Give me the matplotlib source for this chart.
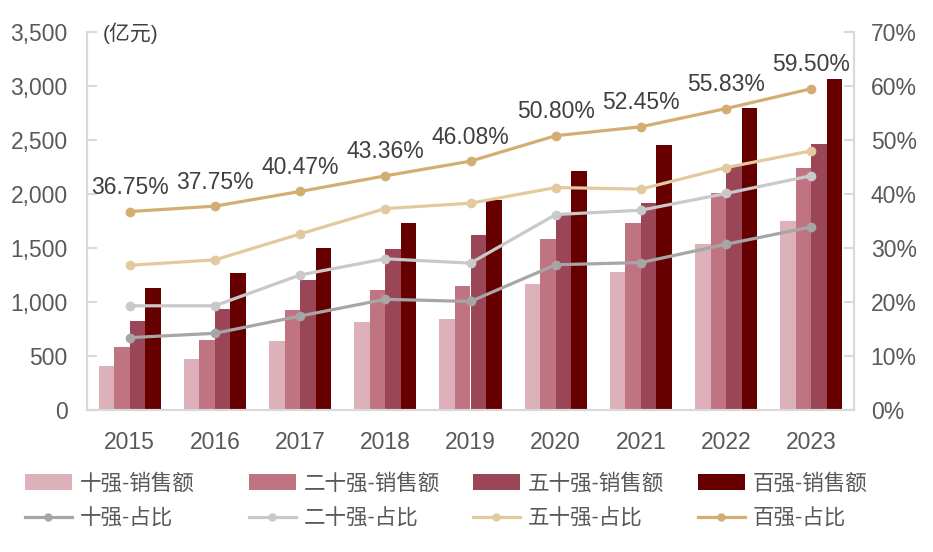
import numpy as np
import matplotlib
matplotlib.use("Agg")
import matplotlib.pyplot as plt
from matplotlib.ticker import FuncFormatter
from matplotlib.patches import Patch
from matplotlib.lines import Line2D

plt.rcParams['font.family'] = ['Liberation Sans', 'Noto Sans CJK SC', 'DejaVu Sans']

# data
years = ['2015', '2016', '2017', '2018', '2019', '2020', '2021', '2022', '2023']
sales_top10 = [410, 475, 640, 815, 846, 1170, 1281, 1540, 1750]
sales_top20 = [586, 651, 923, 1108, 1151, 1586, 1728, 2006, 2238]
sales_top50 = [824, 932, 1204, 1488, 1617, 1810, 1913, 2255, 2466]
sales_top100 = [1130, 1269, 1497, 1728, 1948, 2216, 2454, 2793, 3062]

share_top10 = [13.4, 14.2, 17.4, 20.5, 20.1, 26.9, 27.3, 30.7, 33.9]
share_top20 = [19.3, 19.3, 25.0, 28.0, 27.2, 36.2, 37.0, 40.1, 43.4]
share_top50 = [26.8, 27.8, 32.6, 37.3, 38.3, 41.2, 40.9, 44.9, 48.0]
share_top100 = [36.75, 37.75, 40.47, 43.36, 46.08, 50.80, 52.45, 55.83, 59.50]

bar_names = ['十强-销售额', '二十强-销售额', '五十强-销售额', '百强-销售额']
line_names = ['十强-占比', '二十强-占比', '五十强-占比', '百强-占比']
bar_colors = ['#DDB1B9', '#C07482', '#9B4656', '#660000']
line_colors = ['#A6A6A6', '#C9C9C9', '#E3CA9E', '#D2AE73']

text_gray = '#595959'
axis_gray = '#D9D9D9'

fig = plt.figure(figsize=(9.33, 5.52), dpi=100)
ax = fig.add_axes([87 / 933, 1 - 410 / 552, (854 - 87) / 933, (410 - 32) / 552])
ax2 = ax.twinx()

x = np.arange(len(years))
w = 0.182
sales = [sales_top10, sales_top20, sales_top50, sales_top100]
for i, vals in enumerate(sales):
    ax.bar(x + (i - 1.5) * w, vals, width=w, color=bar_colors[i], zorder=2)

shares = [share_top10, share_top20, share_top50, share_top100]
for i, vals in enumerate(shares):
    ax2.plot(x, vals, color=line_colors[i], lw=2.3, marker='o', ms=6, zorder=3)

# labels on the top-100 share line
for xi, v in zip(x, share_top100):
    ax2.annotate(f'{v:.2f}%', (xi, v), xytext=(0, 9), textcoords='offset points',
                 ha='center', va='bottom', fontsize=16.5, color='#404040')

ax.set_xlim(-0.5, len(years) - 0.5)
ax.set_ylim(0, 3500)
ax.set_yticks(range(0, 3501, 500))
ax.yaxis.set_major_formatter(FuncFormatter(lambda v, p: f'{v:,.0f}'))
ax2.set_ylim(0, 70)
ax2.set_yticks(range(0, 71, 10))
ax2.yaxis.set_major_formatter(FuncFormatter(lambda v, p: f'{v:.0f}%'))

ax.set_xticks(x)
ax.set_xticklabels(years)

for a in (ax, ax2):
    a.spines['top'].set_visible(False)
    for s in ('left', 'right', 'bottom'):
        a.spines[s].set_color(axis_gray)
        a.spines[s].set_linewidth(1.5)
ax.tick_params(axis='x', length=0, pad=15, labelsize=16.5, labelcolor=text_gray)
ax.tick_params(axis='y', direction='in', length=7, width=1.5, color=axis_gray,
               pad=14, labelsize=16.5, labelcolor=text_gray)
ax2.tick_params(axis='y', direction='in', length=7, width=1.5, color=axis_gray,
                pad=12, labelsize=16.5, labelcolor=text_gray)

ax.text(103 / 933, 1 - 33 / 552, '(亿元)', transform=fig.transFigure,
        fontsize=15, color='#404040', va='center', ha='left')

# legend: four evenly spaced columns, one legend each
col_x = [14, 238, 462, 687]
for i in range(4):
    handles = [Patch(facecolor=bar_colors[i]),
               Line2D([0], [0], color=line_colors[i], lw=2.3, marker='o', ms=5)]
    fig.legend(handles, [bar_names[i], line_names[i]],
               loc='upper left', bbox_to_anchor=(col_x[i] / 933, 1 - 463 / 552),
               frameon=False, fontsize=15.5, labelcolor=text_gray,
               handlelength=2.2, handleheight=0.75, handletextpad=0.35,
               labelspacing=0.65, borderpad=0, numpoints=1)

fig.savefig('out.png', dpi=100)
